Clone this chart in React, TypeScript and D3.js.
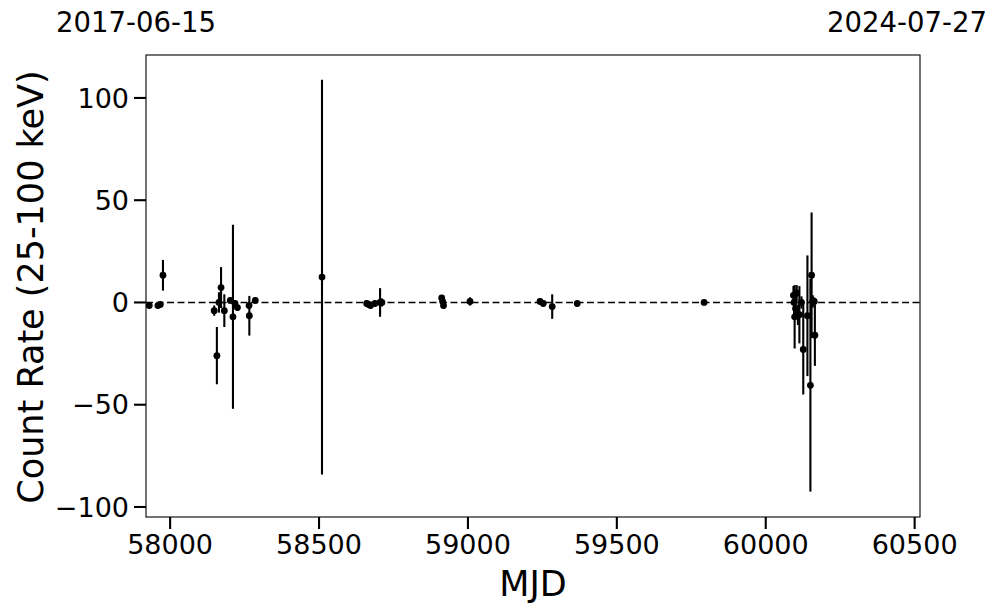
import React from "react";
import * as d3 from "d3";

const mjd = [
  57930, 57959, 57967, 57976, 58148, 58157, 58164, 58171, 58182, 58202, 58211, 58218, 58226, 58265, 58266, 58286,
  58510,
  58660, 58667, 58673, 58688, 58705, 58711, 58912, 58915, 58918, 59007, 59242, 59253, 59283, 59367, 59793,
  60093, 60095, 60097, 60100, 60104, 60108, 60113, 60120, 60126, 60140, 60150, 60154, 60158, 60163, 60165,
];
const rate = [
  -1.5, -1.5, -1.0, 13.3, -4.0, -26.0, 0.0, 7.3, -4.0, 1.0, -7.0, -0.5, -2.5, -1.5, -6.5, 1.0,
  12.4,
  -0.5, -1.0, -1.5, -0.5, 0.0, 0.0, 2.2, 0.5, -1.5, 0.5, 0.5, -0.5, -2.0, -0.5, 0.0,
  3.5, 0.0, -7.0, -3.0, 4.5, -6.0, -6.0, 0.0, -23.0, -6.5, -40.5, 13.3, 0.5, 0.5, -16.0,
];
const err = [
  0.8, 0.8, 0.8, 7.5, 2.5, 14, 5, 10, 8, 1.5, 45, 1.5, 1.5, 1.5, 9.7, 1.5,
  96.5,
  1.5, 1.5, 1.5, 1.5, 7, 2, 1.5, 1.5, 1.5, 2, 1.5, 1.5, 6, 1, 1,
  4.5, 8, 15.5, 5, 4, 5, 14, 3, 22, 29.5, 52, 30.7, 3, 2, 15,
];
const xTicks = [58000, 58500, 59000, 59500, 60000, 60500];
const yTicks = [-100, -50, 0, 50, 100];
const startDate = "2017-06-15";
const endDate = "2024-07-27";
const xLabel = "MJD";
const yLabel = "Count Rate (25-100 keV)";

const W = 997, H = 613;
const L = 146, R = 920, T = 55, B = 517;
const FONT = "DejaVu Sans, sans-serif";
const TICK = 12, PAD = 5, TFS = 27;

export default function App() {
  const x = d3.scaleLinear().domain([57919, 60518]).range([L, R]);
  const y = d3.scaleLinear().domain([-104.9, 121]).range([B, T]);
  const fmt = (v: number) => (v < 0 ? "\u2212" + Math.abs(v) : String(v));
  const pts = mjd.map((m, i) => ({ m, v: rate[i], e: err[i] }));
  return (
    <svg width={W} height={H} style={{ position: "absolute", left: 0, top: 0, background: "#fff" }} fontFamily={FONT}>
      <rect x={0} y={0} width={W} height={H} fill="#fff" />
      <line x1={L} x2={R} y1={y(0)} y2={y(0)} stroke="#000" strokeWidth={1.5} strokeDasharray="7,3.5" />
      {pts.map((p, i) => (
        <line key={"e" + i} x1={x(p.m)} x2={x(p.m)} y1={y(p.v - p.e)} y2={y(p.v + p.e)} stroke="#000" strokeWidth={2.1} />
      ))}
      {pts.map((p, i) => (
        <circle key={"p" + i} cx={x(p.m)} cy={y(p.v)} r={3.4} fill="#000" />
      ))}
      <rect x={L} y={T} width={R - L} height={B - T} fill="none" stroke="#000" strokeWidth={1.1} />
      {xTicks.map((t) => (
        <g key={"x" + t}>
          <line x1={x(t)} x2={x(t)} y1={B} y2={B + TICK} stroke="#000" strokeWidth={2.1} />
          <text x={x(t)} y={B + TICK + PAD + 0.73 * TFS} fontSize={TFS} textAnchor="middle">{t}</text>
        </g>
      ))}
      {yTicks.map((t) => (
        <g key={"y" + t}>
          <line x1={L - TICK} x2={L} y1={y(t)} y2={y(t)} stroke="#000" strokeWidth={2.1} />
          <text x={L - TICK - PAD} y={y(t)} dy="0.36em" fontSize={TFS} textAnchor="end">{fmt(t)}</text>
        </g>
      ))}
      <text x={(L + R) / 2} y={596} fontSize={35} textAnchor="middle">{xLabel}</text>
      <text transform={`translate(${30},${(T + B) / 2 + 1}) rotate(-90)`} dy="0.36em" fontSize={35} textAnchor="middle">{yLabel}</text>
      <text x={136} y={32} fontSize={27.5} textAnchor="middle">{startDate}</text>
      <text x={907} y={32} fontSize={27.5} textAnchor="middle">{endDate}</text>
    </svg>
  );
}
